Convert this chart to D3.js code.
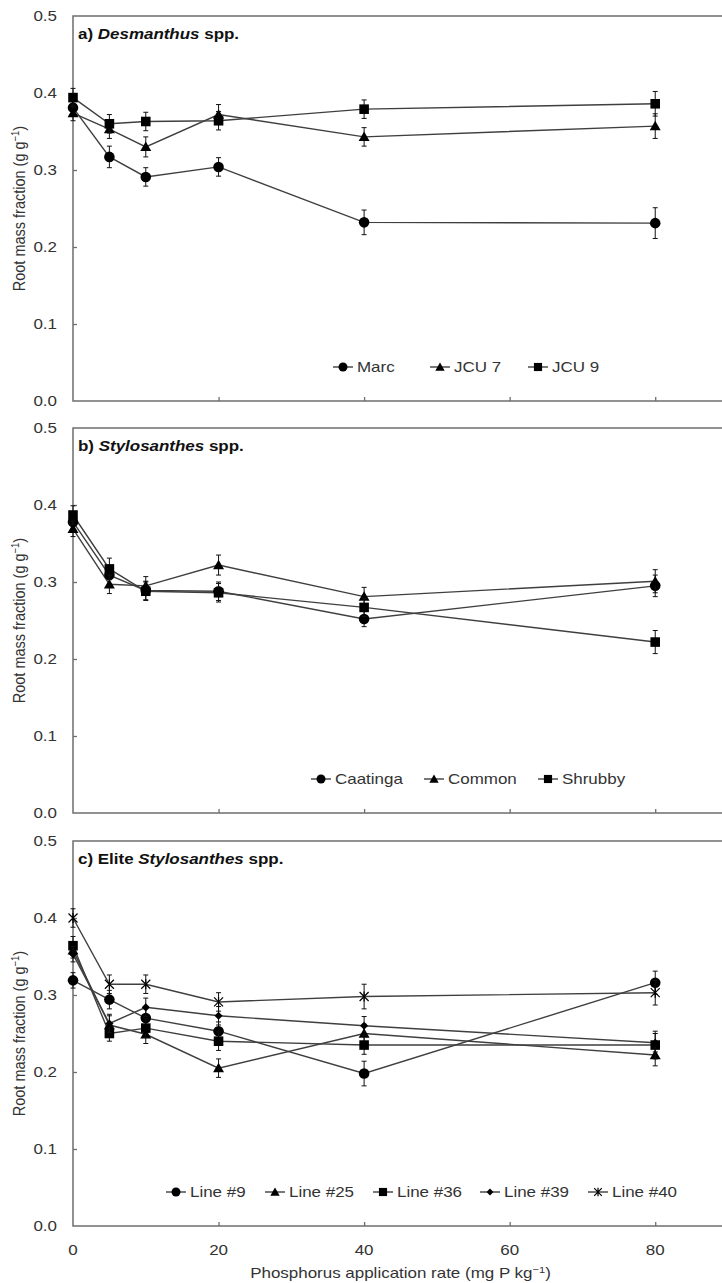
<!DOCTYPE html>
<html>
<head>
<meta charset="utf-8">
<script src="https://cdn.jsdelivr.net/npm/d3@7"></script>
<style>
  body { margin: 0; background: #fff; }
  text { font-family: "Liberation Sans", Arial, sans-serif; }
</style>
</head>
<body>
<div id="chart"></div>
<script>
// phosphorus rates (mg P kg-1) and axis ticks
var rates = [0, 5, 10, 20, 40, 80];
var xTicks = [0, 20, 40, 60, 80];
var yTicks = [0, 0.1, 0.2, 0.3, 0.4, 0.5];

// a) Desmanthus spp.
var desNames = ["Marc", "JCU 7", "JCU 9"];
var desMarc = [0.381, 0.317, 0.291, 0.304, 0.232, 0.231];
var desMarcErr = [0.010, 0.014, 0.012, 0.012, 0.016, 0.020];
var desJcu7 = [0.374, 0.353, 0.330, 0.372, 0.343, 0.357];
var desJcu7Err = [0.010, 0.012, 0.013, 0.013, 0.012, 0.016];
var desJcu9 = [0.394, 0.360, 0.363, 0.364, 0.379, 0.386];
var desJcu9Err = [0.012, 0.012, 0.012, 0.012, 0.012, 0.016];

// b) Stylosanthes spp.
var styNames = ["Caatinga", "Common", "Shrubby"];
var styCaatinga = [0.378, 0.309, 0.289, 0.288, 0.252, 0.295];
var styCaatingaErr = [0.010, 0.012, 0.012, 0.012, 0.010, 0.014];
var styCommon = [0.369, 0.297, 0.295, 0.322, 0.281, 0.301];
var styCommonErr = [0.010, 0.012, 0.012, 0.013, 0.012, 0.015];
var styShrubby = [0.387, 0.317, 0.288, 0.286, 0.267, 0.222];
var styShrubbyErr = [0.012, 0.014, 0.012, 0.012, 0.012, 0.015];

// c) Elite Stylosanthes spp.
var eliteNames = ["Line #9", "Line #25", "Line #36", "Line #39", "Line #40"];
var line9 = [0.319, 0.294, 0.270, 0.253, 0.198, 0.316];
var line9Err = [0.010, 0.012, 0.012, 0.012, 0.016, 0.015];
var line25 = [0.358, 0.261, 0.249, 0.205, 0.250, 0.222];
var line25Err = [0.010, 0.012, 0.012, 0.012, 0.012, 0.014];
var line36 = [0.364, 0.250, 0.257, 0.240, 0.235, 0.235];
var line36Err = [0.012, 0.010, 0.012, 0.012, 0.012, 0.018];
var line39 = [0.353, 0.263, 0.284, 0.273, 0.260, 0.238];
var line39Err = [0.010, 0.012, 0.012, 0.012, 0.012, 0.012];
var line40 = [0.400, 0.314, 0.314, 0.291, 0.298, 0.303];
var line40Err = [0.012, 0.012, 0.012, 0.012, 0.016, 0.016];

var SX = 1.17;          // glyphs in the source figure are a little wide
var FS = 14.5;
var axisColor = "#6e6e6e";
var lineColor = "#3f3f3f";

var panels = [
    { top: 16, title: ["a) ", "Desmanthus", " spp."], names: desNames,
      series: [desMarc, desJcu7, desJcu9], errs: [desMarcErr, desJcu7Err, desJcu9Err],
      shapes: ["circle", "triangle", "square"], legendX: [333, 430, 528], legendY: 367 },
    { top: 428, title: ["b) ", "Stylosanthes", " spp."], names: styNames,
      series: [styCaatinga, styCommon, styShrubby], errs: [styCaatingaErr, styCommonErr, styShrubbyErr],
      shapes: ["circle", "triangle", "square"], legendX: [311, 424, 538], legendY: 779 },
    { top: 841, title: ["c) Elite ", "Stylosanthes", " spp."], names: eliteNames,
      series: [line9, line25, line36, line39, line40], errs: [line9Err, line25Err, line36Err, line39Err, line40Err],
      shapes: ["circle", "triangle", "square", "diamond", "star"], legendX: [166, 265, 373, 480, 588], legendY: 1192 }
];

var svg = d3.select("#chart").append("svg").attr("width", 722).attr("height", 1283);

var x = d3.scaleLinear().domain([0, 90]).range([73, 728]);
var panelH = 385;

function stretchText(g, px, py, anchor) {
    return g.append("text")
        .attr("transform", "translate(" + px + "," + py + ") scale(" + SX + ",1)")
        .attr("text-anchor", anchor || "start")
        .attr("font-size", FS)
        .attr("fill", "#333");
}

function marker(g, shape, cx, cy, big) {
    var k = big ? 1 : 0.85;
    if (shape == "star") {
        var r = 4.5 * k;
        g.append("path")
            .attr("d", "M" + (cx - r) + "," + (cy - r) + "L" + (cx + r) + "," + (cy + r) +
                       "M" + (cx - r) + "," + (cy + r) + "L" + (cx + r) + "," + (cy - r) +
                       "M" + cx + "," + (cy - r * 1.1) + "L" + cx + "," + (cy + r * 1.1))
            .attr("stroke", "#000").attr("stroke-width", 1.2).attr("fill", "none");
        return;
    }
    var types = { circle: d3.symbolCircle, triangle: d3.symbolTriangle, square: d3.symbolSquare, diamond: d3.symbolDiamond2 };
    var sizes = { circle: 88, triangle: 52, square: 92, diamond: 42 };
    g.append("path")
        .attr("d", d3.symbol().type(types[shape]).size(sizes[shape] * k * k)())
        .attr("transform", "translate(" + cx + "," + (shape == "triangle" ? cy + 1 : cy) + ")")
        .attr("fill", "#000");
}

panels.forEach(function(p, pi) {
    var y = d3.scaleLinear().domain([0, 0.5]).range([p.top + panelH, p.top]);
    var g = svg.append("g");

    // frame
    g.append("rect")
        .attr("x", x(0)).attr("y", y(0.5))
        .attr("width", x(90) - x(0)).attr("height", y(0) - y(0.5))
        .attr("fill", "none").attr("stroke", axisColor).attr("stroke-width", 1.5);

    // inward ticks
    g.append("g")
        .attr("transform", "translate(" + x(0) + ",0)")
        .call(d3.axisLeft(y).tickValues([0.1, 0.2, 0.3, 0.4]).tickSizeInner(-4).tickSizeOuter(0).tickFormat(""))
        .call(function(a) { a.select(".domain").remove(); a.selectAll("line").attr("stroke", axisColor).attr("stroke-width", 1.3); });
    g.append("g")
        .attr("transform", "translate(0," + y(0) + ")")
        .call(d3.axisBottom(x).tickValues([20, 40, 60, 80]).tickSizeInner(-4).tickSizeOuter(0).tickFormat(""))
        .call(function(a) { a.select(".domain").remove(); a.selectAll("line").attr("stroke", axisColor).attr("stroke-width", 1.3); });

    // y tick labels
    yTicks.forEach(function(v) {
        stretchText(g, 57, y(v) + 5, "end").text(d3.format(".1f")(v));
    });

    // y axis title
    var yt = g.append("text")
        .attr("transform", "translate(25," + (p.top + panelH / 2) + ") rotate(-90) scale(1," + SX + ")")
        .attr("text-anchor", "middle")
        .attr("font-size", FS)
        .attr("fill", "#333");
    yt.append("tspan").text("Root mass fraction (g g");
    yt.append("tspan").attr("font-size", 9.5).attr("dy", -5).text("\u22121");
    yt.append("tspan").attr("dy", 5).text(")");

    // panel title
    var tt = g.append("text")
        .attr("transform", "translate(78," + (p.top + 23) + ") scale(" + SX + ",1)")
        .attr("font-size", FS).attr("font-weight", "bold").attr("fill", "#111");
    tt.append("tspan").text(p.title[0]);
    tt.append("tspan").attr("font-style", "italic").text(p.title[1]);
    tt.append("tspan").text(p.title[2]);

    // series
    var line = d3.line().x(function(d) { return x(d[0]); }).y(function(d) { return y(d[1]); });
    p.series.forEach(function(vals, si) {
        var pts = rates.map(function(r, i) { return [r, vals[i], p.errs[si][i]]; });
        g.append("path").datum(pts)
            .attr("d", line)
            .attr("fill", "none").attr("stroke", lineColor).attr("stroke-width", 1.4);
    });
    p.series.forEach(function(vals, si) {
        var eg = g.append("g").attr("stroke", "#111").attr("stroke-width", 1);
        rates.forEach(function(r, i) {
            var cx = x(r), lo = y(vals[i] - p.errs[si][i]), hi = y(vals[i] + p.errs[si][i]);
            eg.append("line").attr("x1", cx).attr("x2", cx).attr("y1", lo).attr("y2", hi);
            eg.append("line").attr("x1", cx - 2.5).attr("x2", cx + 2.5).attr("y1", lo).attr("y2", lo);
            eg.append("line").attr("x1", cx - 2.5).attr("x2", cx + 2.5).attr("y1", hi).attr("y2", hi);
        });
        var mg = g.append("g");
        rates.forEach(function(r, i) { marker(mg, p.shapes[si], x(r), y(vals[i]), true); });
    });

    // legend
    p.names.forEach(function(name, si) {
        var sx = p.legendX[si], ly = p.legendY;
        g.append("line").attr("x1", sx).attr("x2", sx + 20).attr("y1", ly).attr("y2", ly)
            .attr("stroke", lineColor).attr("stroke-width", 1.4);
        marker(g, p.shapes[si], sx + 10, ly, false);
        stretchText(g, sx + 24, ly + 5, "start").text(name);
    });

    // x tick labels on the bottom panel only
    if (pi == panels.length - 1) {
        xTicks.forEach(function(v) {
            stretchText(g, x(v), y(0) + 29, "middle").text(v);
        });
        var xt = g.append("text")
            .attr("transform", "translate(" + x(45) + "," + (y(0) + 52) + ") scale(" + SX + ",1)")
            .attr("text-anchor", "middle").attr("font-size", FS).attr("fill", "#333");
        xt.append("tspan").text("Phosphorus application rate (mg P kg");
        xt.append("tspan").attr("font-size", 9.5).attr("dy", -5).text("\u22121");
        xt.append("tspan").attr("dy", 5).text(")");
    }
});
</script>
</body>
</html>
